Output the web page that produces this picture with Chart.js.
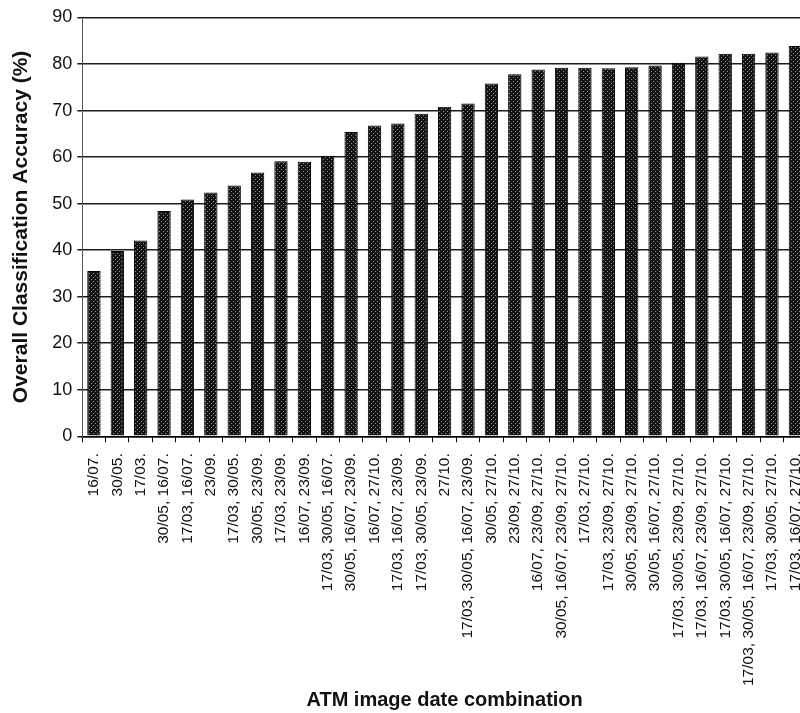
<!DOCTYPE html>
<html>
<head>
<meta charset="utf-8">
<script src="https://cdn.jsdelivr.net/npm/chart.js@4/dist/chart.umd.min.js"></script>
<style>
  html, body { margin: 0; padding: 0; background: #fff; overflow: hidden; }
  #wrap { width: 825px; height: 713px; position: relative; }
</style>
</head>
<body>
<div id="wrap"><canvas id="c" width="825" height="713"></canvas></div>
<script>
const categories = [
  "16/07.", "30/05.", "17/03.", "30/05, 16/07.", "17/03, 16/07.", "23/09.",
  "17/03, 30/05.", "30/05, 23/09.", "17/03, 23/09.", "16/07, 23/09.",
  "17/03, 30/05, 16/07.", "30/05, 16/07, 23/09.", "16/07, 27/10.",
  "17/03, 16/07, 23/09.", "17/03, 30/05, 23/09.", "27/10.",
  "17/03, 30/05, 16/07, 23/09.", "30/05, 27/10.", "23/09, 27/10.",
  "16/07, 23/09, 27/10.", "30/05, 16/07, 23/09, 27/10.", "17/03, 27/10.",
  "17/03, 23/09, 27/10.", "30/05, 23/09, 27/10.", "30/05, 16/07, 27/10.",
  "17/03, 30/05, 23/09, 27/10.", "17/03, 16/07, 23/09, 27/10.",
  "17/03, 30/05, 16/07, 27/10.", "17/03, 30/05, 16/07, 23/09, 27/10.",
  "17/03, 30/05, 27/10.", "17/03, 16/07, 27/10."
];
const accuracy = [
  35.5, 39.8, 42.1, 48.4, 50.9, 52.4, 53.9, 56.7, 59.1, 59.0,
  60.3, 65.4, 66.8, 67.2, 69.3, 70.8, 71.5, 75.8, 77.8, 78.8,
  79.2, 79.2, 79.1, 79.3, 79.7, 80.3, 81.6, 82.2, 82.2, 82.5, 83.9
];
const yTickValues = [0, 10, 20, 30, 40, 50, 60, 70, 80, 90];
const yTitle = "Overall Classification Accuracy (%)";
const xTitle = "ATM image date combination";

// halftone-like bar fill
const pc = document.createElement('canvas');
pc.width = 4; pc.height = 4;
const pctx = pc.getContext('2d');
pctx.fillStyle = '#141414';
pctx.fillRect(0, 0, 4, 4);
pctx.fillStyle = '#8a8a8a';
pctx.fillRect(1, 1, 1, 1);
pctx.fillRect(3, 3, 1, 1);
const ctx = document.getElementById('c').getContext('2d');
const barFill = ctx.createPattern(pc, 'repeat');

const FONT = "'Liberation Sans', Arial, Helvetica, sans-serif";

new Chart(ctx, {
  type: 'bar',
  data: {
    labels: categories,
    datasets: [{
      data: accuracy,
      backgroundColor: barFill,
      borderColor: '#000',
      borderWidth: 1,
      categoryPercentage: 1.0,
      barPercentage: 0.57
    }]
  },
  options: {
    responsive: false,
    animation: false,
    events: [],
    layout: { padding: { left: 9, right: 2, top: 17.5, bottom: 0 } },
    plugins: { legend: { display: false }, tooltip: { enabled: false } },
    scales: {
      x: {
        grid: { display: true, drawOnChartArea: false, drawTicks: true, tickLength: 6, color: '#000', lineWidth: 1, offset: true },
        border: { display: true, color: '#000', width: 1.5 },
        ticks: {
          autoSkip: false, minRotation: 90, maxRotation: 90,
          padding: 11, color: '#111',
          font: { family: FONT, size: 15.5 }
        },
        title: {
          display: true, text: xTitle, color: '#111',
          font: { family: FONT, size: 20, weight: 'bold', lineHeight: 1.0 },
          padding: { top: -7, bottom: 3 }
        }
      },
      y: {
        min: 0, max: 90,
        afterBuildTicks: (scale) => { scale.ticks = yTickValues.map(v => ({ value: v })); },
        grid: { color: '#1e1e1e', lineWidth: 1.5, tickLength: 5, drawTicks: true },
        border: { display: true, color: '#555', width: 1 },
        ticks: {
          padding: 5, color: '#111',
          font: { family: FONT, size: 18 }
        },
        title: {
          display: true, text: yTitle, color: '#111',
          font: { family: FONT, size: 21, weight: 'bold' },
          padding: { top: 0, bottom: 13 }
        }
      }
    }
  }
});
</script>
</body>
</html>
